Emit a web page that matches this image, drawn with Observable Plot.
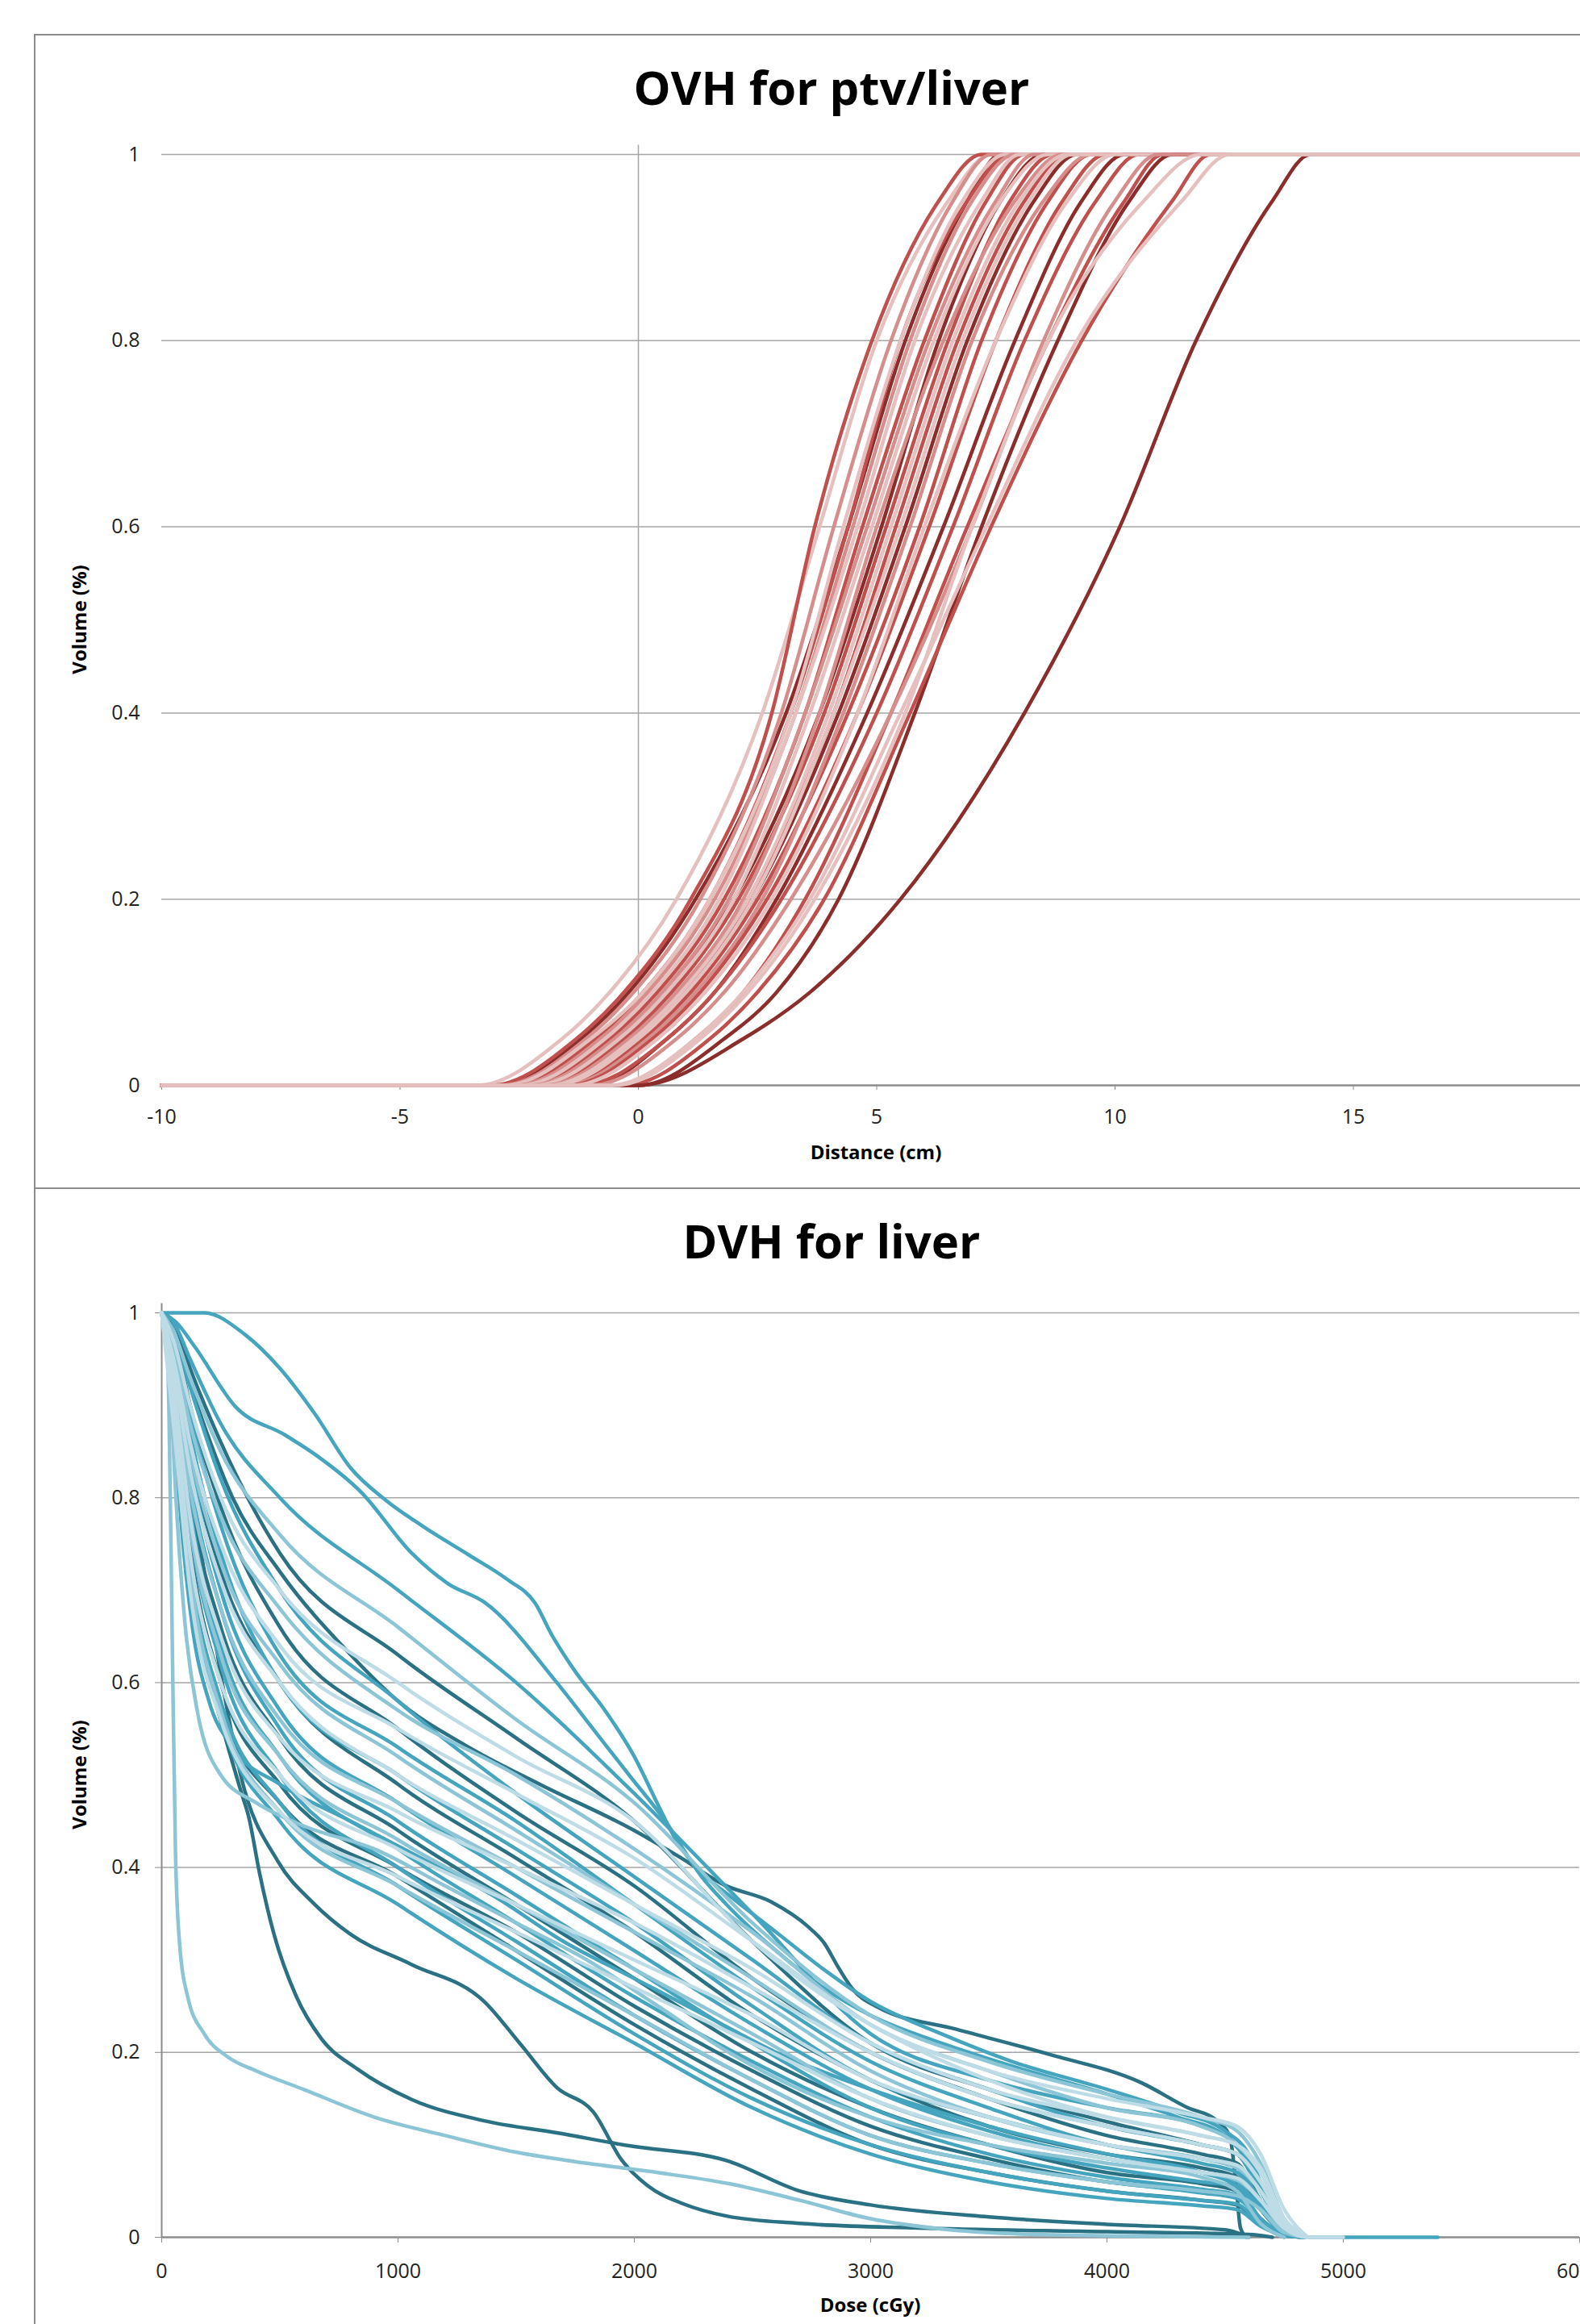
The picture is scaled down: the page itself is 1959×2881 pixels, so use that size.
<!DOCTYPE html>
<html>
<head>
<meta charset="utf-8">
<script src="https://cdn.jsdelivr.net/npm/d3@7"></script>
<script src="https://cdn.jsdelivr.net/npm/@observablehq/plot@0.6"></script>
<style>
html,body{margin:0;padding:0;background:#fff;overflow:hidden;}
#page{position:relative;width:1959px;height:2881px;overflow:hidden;font-family:"Open Sans",sans-serif;background:#fff;}
.frame{position:absolute;box-sizing:border-box;border-color:#8c8c8c;border-style:solid;}
.title{position:absolute;font-weight:700;font-size:58px;line-height:1;white-space:nowrap;transform:translate(-50%,-50%);color:#000;}
.axlab{position:absolute;font-weight:700;font-size:24px;line-height:1;white-space:nowrap;color:#000;transform:translate(-50%,-50%);}
.axlab.rot{transform:translate(-50%,-50%) rotate(-90deg);}
.chart{position:absolute;left:0;width:2100px;}
.chart svg{max-width:none !important;overflow:visible;}
.chart svg text{fill:#222;font-size:25px;}
</style>
</head>
<body>
<div id="page">
  <div class="frame" style="left:42px;top:42px;width:2100px;height:1432px;border-width:2.5px;"></div>
  <div class="frame" style="left:42px;top:1473px;width:2100px;height:1600px;border-width:0 0 0 2.5px;"></div>
  <div class="title" style="left:1031px;top:108px;">OVH for ptv/liver</div>
  <div class="title" style="left:1031px;top:1538px;">DVH for liver</div>
  <div class="axlab rot" style="left:98px;top:768px;">Volume (%)</div>
  <div class="axlab" style="left:1086px;top:1428px;">Distance (cm)</div>
  <div class="axlab rot" style="left:98px;top:2200px;">Volume (%)</div>
  <div class="axlab" style="left:1079px;top:2857px;">Dose (cGy)</div>
  <div id="ovh" class="chart" style="top:161px;"></div>
  <div id="dvh" class="chart" style="top:1597px;"></div>
</div>
<script>
// ---------------- OVH data ----------------
const ovhLevels = [0, 0.05, 0.1, 0.2, 0.4, 0.6, 0.8, 0.95, 1];
const ovhX = [
  [-3.4,-1.6,-0.6,0.8,2.6,3.8,5.0,6.5,7.4],
  [-3.0,-1.2,-0.2,1.2,3.1,4.4,5.6,6.9,7.6],
  [-3.1,-1.3,-0.3,1.1,2.8,3.7,4.9,6.3,7.2],
  [-2.9,-1.1,-0.1,1.3,3.0,4.1,5.3,6.6,7.4],
  [-2.7,-0.9,0.1,1.5,3.2,4.4,5.5,6.9,7.8],
  [-2.8,-1.0,0.1,1.5,3.2,4.3,5.5,6.8,7.7],
  [-2.4,-0.6,0.4,1.8,3.5,4.7,6.0,7.3,8.1],
  [-2.6,-0.8,0.2,1.6,3.3,4.5,5.7,7.0,7.9],
  [-2.5,-0.7,0.3,1.7,3.3,4.6,5.8,7.2,8.0],
  [-2.2,-0.4,0.6,2.0,3.8,5.1,6.3,7.6,8.5],
  [-2.3,-0.5,0.5,1.9,3.5,4.8,6.1,7.5,8.3],
  [-2.1,-0.3,0.7,2.1,3.9,5.2,6.5,7.8,8.7],
  [-2.2,-0.4,0.6,2.0,3.6,4.9,6.2,7.6,8.6],
  [-1.9,-0.1,0.9,2.3,4.1,5.4,6.7,8.1,9.0],
  [-2.0,-0.2,0.8,2.2,3.8,5.0,6.4,7.9,8.9],
  [-1.6,0.1,1.0,2.4,4.2,5.6,6.9,8.3,9.2],
  [-1.9,-0.1,0.9,2.3,4.0,5.3,6.6,8.0,9.0],
  [-1.7,0.1,1.1,2.5,4.4,5.9,7.2,8.6,9.5],
  [-1.6,0.2,1.2,2.6,4.3,5.7,7.0,8.5,9.5],
  [-1.5,0.3,1.3,2.7,4.6,6.1,7.5,8.9,9.8],
  [-1.8,0.0,1.0,2.4,4.1,5.5,6.8,8.2,9.1],
  [-1.0,0.6,1.6,2.9,4.8,6.4,7.9,9.3,10.2],
  [-1.2,0.6,1.6,3.0,5.0,6.6,8.1,9.6,10.5],
  [-1.4,0.4,1.4,2.8,4.6,6.0,7.5,9.0,10.0],
  [-0.5,1.2,2.2,3.5,5.3,6.9,8.6,10.2,11.0],
  [0.0,1.8,2.9,4.2,5.8,7.2,8.8,10.3,11.2],
  [-0.3,1.5,2.5,3.9,5.7,7.4,9.3,11.2,12.0],
  [-1.0,0.8,1.8,3.2,5.3,7.0,8.5,10.0,10.9],
  [0.0,2.2,3.6,5.5,8.1,10.1,11.7,13.3,14.1],
  [-0.5,1.3,2.3,3.7,5.6,7.0,8.6,10.6,11.8],
  [-0.6,1.2,2.2,3.6,5.5,7.3,9.2,11.4,12.4]
];
const ovhShade = ["P","D","M","L","M","P","M","L","P","D","L","M","P","M","L","D","P","M","L","M","P","D","M","P","M","D","M","L","D","P","P"];
const ovhPalette = {D: "#8A2D2B", M: "#C0504D", L: "#D68E8C", P: "#E6C0BF"};
const ovhXDomain = [-10, 20];
const ovhXTicks = [-10, -5, 0, 5, 10, 15, 20];
const volTicks = [0, 0.2, 0.4, 0.6, 0.8, 1];

// ---------------- DVH data ----------------
const dvhGrid = [0,50,120,250,500,1000,1500,2000,2500,3000,3500,4000,4400,4550,4650,4750,4850];
const dvhBundle = [
  [1,0.99,0.95,0.88,0.8,0.7,0.6,0.48,0.35,0.22,0.17,0.14,0.12,0.1,0.06,0.01,0],
  [1,0.98,0.93,0.85,0.76,0.66,0.56,0.47,0.34,0.24,0.19,0.155,0.13,0.115,0.08,0.02,0],
  [1,0.99,0.94,0.86,0.74,0.63,0.54,0.45,0.32,0.21,0.16,0.125,0.1,0.09,0.05,0.01,0],
  [1,0.97,0.9,0.8,0.7,0.6,0.52,0.45,0.32,0.23,0.18,0.15,0.13,0.12,0.09,0.03,0],
  [1,0.98,0.92,0.82,0.7,0.58,0.48,0.39,0.3,0.21,0.16,0.12,0.1,0.09,0.05,0.01,0],
  [1,0.96,0.88,0.78,0.68,0.57,0.5,0.42,0.33,0.23,0.18,0.14,0.12,0.1,0.07,0.02,0],
  [1,0.98,0.9,0.79,0.66,0.55,0.46,0.38,0.28,0.2,0.15,0.11,0.09,0.08,0.04,0.005,0],
  [1,0.95,0.86,0.75,0.64,0.55,0.48,0.41,0.32,0.23,0.17,0.13,0.11,0.1,0.07,0.02,0],
  [1,0.97,0.89,0.77,0.63,0.53,0.45,0.36,0.27,0.19,0.14,0.1,0.085,0.075,0.04,0.01,0],
  [1,0.95,0.85,0.73,0.62,0.52,0.44,0.36,0.28,0.2,0.15,0.12,0.1,0.09,0.06,0.015,0],
  [1,0.97,0.87,0.74,0.6,0.5,0.42,0.34,0.25,0.17,0.13,0.1,0.08,0.07,0.035,0.005,0],
  [1,0.96,0.85,0.72,0.6,0.49,0.41,0.33,0.24,0.17,0.12,0.09,0.075,0.065,0.03,0.005,0],
  [1,0.94,0.83,0.71,0.6,0.5,0.43,0.36,0.29,0.21,0.16,0.13,0.11,0.1,0.075,0.02,0],
  [1,0.96,0.84,0.7,0.57,0.47,0.39,0.31,0.23,0.16,0.115,0.085,0.07,0.06,0.03,0.005,0],
  [1,0.93,0.81,0.68,0.56,0.47,0.4,0.33,0.26,0.18,0.13,0.1,0.085,0.075,0.05,0.01,0],
  [1,0.95,0.82,0.68,0.55,0.45,0.37,0.29,0.21,0.14,0.1,0.075,0.06,0.055,0.03,0.005,0],
  [1,0.95,0.8,0.66,0.54,0.44,0.36,0.28,0.2,0.14,0.1,0.07,0.058,0.05,0.02,0.003,0],
  [1,0.92,0.78,0.65,0.54,0.46,0.4,0.34,0.27,0.2,0.15,0.12,0.1,0.09,0.06,0.015,0],
  [1,0.94,0.79,0.64,0.52,0.42,0.34,0.26,0.19,0.13,0.09,0.065,0.052,0.046,0.02,0.003,0],
  [1,0.92,0.77,0.63,0.52,0.43,0.36,0.29,0.22,0.15,0.11,0.085,0.07,0.062,0.04,0.008,0],
  [1,0.93,0.77,0.62,0.5,0.4,0.32,0.24,0.17,0.11,0.08,0.06,0.048,0.042,0.02,0.003,0],
  [1,0.92,0.75,0.6,0.49,0.4,0.33,0.25,0.18,0.12,0.085,0.06,0.05,0.045,0.02,0.002,0],
  [1,0.9,0.74,0.6,0.5,0.42,0.36,0.3,0.24,0.17,0.13,0.1,0.085,0.078,0.05,0.012,0],
  [1,0.91,0.73,0.58,0.47,0.38,0.3,0.22,0.15,0.1,0.07,0.05,0.04,0.036,0.015,0.002,0],
  [1,0.9,0.72,0.57,0.46,0.38,0.31,0.24,0.17,0.11,0.08,0.06,0.05,0.045,0.03,0.005,0],
  [1,0.9,0.71,0.56,0.45,0.36,0.28,0.21,0.14,0.09,0.06,0.042,0.034,0.03,0.012,0.002,0],
  [1,0.91,0.72,0.57,0.47,0.39,0.31,0.23,0.16,0.1,0.07,0.05,0.04,0.035,0.015,0.002,0],
  [1,0.88,0.7,0.56,0.46,0.39,0.33,0.27,0.21,0.15,0.11,0.085,0.07,0.064,0.04,0.01,0]
];
const dvhBundleShade = ["M","L","D","P","M","L","D","P","M","L","M","D","P","M","L","M","D","P","M","L","M","D","P","M","L","M","D","P"];
const dvhBundleEnd = [4850,4850,4850,4850,4850,4850,4850,4850,4850,4850,4850,4850,4850,4850,4850,5400,4850,4850,4850,4850,4850,4850,4850,4850,4850,4850,4850,5000];

const dvhCurveA = [[0,1],[180,1],[350,0.977],[500,0.94],[650,0.89],[800,0.832],[950,0.797],[1100,0.77],[1300,0.738],[1460,0.712],[1580,0.686],[1650,0.652],[1750,0.612],[1870,0.572],[2000,0.52],[2100,0.468],[2180,0.428],[2290,0.393],[2400,0.37],[2600,0.33],[2800,0.29],[3000,0.255],[3300,0.22],[3600,0.19],[4000,0.16],[4300,0.135],[4500,0.115],[4600,0.09],[4680,0.04],[4760,0.01],[4850,0]];
const dvhCurveE = [[0,1],[60,0.99],[138,0.964],[314,0.898],[521,0.868],[659,0.845],[844,0.806],[1058,0.74],[1212,0.707],[1365,0.687],[1672,0.6],[1825,0.55],[1978,0.5],[2132,0.45],[2285,0.39],[2390,0.36],[2600,0.31],[2800,0.27],[3000,0.24],[3300,0.21],[3600,0.185],[4000,0.155],[4300,0.13],[4500,0.11],[4600,0.08],[4700,0.03],[4780,0.005],[4850,0]];
const dvhCurveS = [[0,1],[60,0.97],[150,0.9],[300,0.8],[500,0.72],[800,0.63],[1000,0.58],[1300,0.53],[1600,0.49],[2000,0.44],[2200,0.41],[2382,0.381],[2578,0.363],[2735,0.336],[2804,0.318],[2863,0.292],[2922,0.269],[3029,0.249],[3363,0.225],[3755,0.198],[4147,0.167],[4343,0.14],[4461,0.127],[4520,0.109],[4545,0.06],[4565,0.01],[4590,0]];
const dvhCurveC = [[0,1],[30,0.97],[60,0.88],[100,0.77],[138,0.694],[215,0.594],[291,0.521],[337,0.481],[368,0.455],[414,0.394],[475,0.328],[567,0.262],[675,0.215],[828,0.182],[1058,0.149],[1365,0.126],[1672,0.113],[1978,0.099],[2390,0.083],[2700,0.05],[3000,0.035],[3500,0.022],[4000,0.014],[4500,0.008],[4600,0]];
const dvhCurveD = [[0,1],[40,0.96],[100,0.85],[180,0.72],[261,0.593],[337,0.497],[491,0.407],[644,0.361],[798,0.328],[1058,0.295],[1365,0.255],[1518,0.209],[1672,0.162],[1825,0.136],[1948,0.083],[2055,0.056],[2209,0.036],[2390,0.023],[2700,0.015],[3200,0.01],[4000,0.006],[4600,0.003],[4700,0]];
const dvhCurveB = [[0,1],[20,0.98],[31,0.89],[46,0.62],[58,0.42],[75,0.32],[110,0.26],[180,0.22],[280,0.195],[400,0.18],[600,0.16],[900,0.13],[1200,0.11],[1500,0.092],[1800,0.08],[2100,0.07],[2400,0.058],[2700,0.04],[3000,0.02],[3300,0.009],[3700,0.003],[4200,0.001],[4600,0]];
const dvhCurveF = [[0,1],[30,0.95],[60,0.8],[100,0.66],[150,0.57],[250,0.5],[400,0.47],[600,0.445],[900,0.42],[1200,0.38],[1500,0.34],[1800,0.3],[2100,0.25],[2400,0.2],[2700,0.16],[3000,0.13],[3500,0.1],[4000,0.08],[4400,0.065],[4550,0.05],[4650,0.015],[4750,0]];
const dvhCurveG = [[0,1],[40,0.93],[80,0.78],[130,0.66],[200,0.58],[300,0.53],[500,0.49],[800,0.45],[1100,0.41],[1400,0.37],[1700,0.32],[2000,0.28],[2300,0.24],[2600,0.2],[3000,0.16],[3500,0.12],[4000,0.09],[4400,0.07],[4550,0.055],[4650,0.02],[4750,0]];
const dvhSpecial = [dvhCurveS, dvhCurveC, dvhCurveD, dvhCurveA, dvhCurveE, dvhCurveG, dvhCurveF, dvhCurveB];
const dvhSpecialShade = ["D","D","D","M","M","M","L","L"];
const dvhPalette = {D: "#2A7184", M: "#45A5BF", L: "#8CC5D6", P: "#BEDCE6"};
const dvhXDomain = [0, 6000];
const dvhXTicks = [0, 1000, 2000, 3000, 4000, 5000, 6000];

// ---------------- OVH chart ----------------
const ovhLines = ovhX.map((xs, i) => {
  const rows = [{x: ovhXDomain[0], y: 0}, ...xs.map((x, j) => ({x, y: ovhLevels[j]})), {x: ovhXDomain[1], y: 1}];
  return Plot.line(rows, {x: "x", y: "y", stroke: ovhPalette[ovhShade[i]], strokeWidth: 4.5, curve: "monotone-x"});
});

const axisStyle = {fontFamily: '"Open Sans", sans-serif', fontSize: "25px", color: "#8c8c8c", background: "transparent", maxWidth: "none", overflow: "visible"};

const ovh = Plot.plot({
  width: 2003, height: 1244,
  marginLeft: 200, marginRight: 30, marginTop: 30, marginBottom: 60,
  style: axisStyle,
  x: {domain: ovhXDomain, ticks: ovhXTicks, tickSize: 6, tickPadding: 24, tickFormat: d => String(d), label: null},
  y: {domain: [0, 1], ticks: volTicks, tickSize: 0, tickPadding: 27, tickFormat: d => String(d), label: null},
  marks: [
    Plot.ruleY(volTicks.filter(v => v > 0), {stroke: "#a6a6a6", strokeWidth: 1.5}),
    Plot.ruleX([0], {y1: 0, y2: 1.01, stroke: "#a6a6a6", strokeWidth: 1.5}),
    Plot.ruleY([0], {stroke: "#8c8c8c", strokeWidth: 2.5}),
    ...ovhLines
  ]
});
document.getElementById("ovh").appendChild(ovh);

// ---------------- DVH chart ----------------
const bundleRows = (k) => {
  const rows = dvhGrid.map((d, j) => ({x: d, y: dvhBundle[k][j]}));
  if (dvhBundleEnd[k] > dvhGrid[dvhGrid.length - 1]) rows.push({x: dvhBundleEnd[k], y: 0});
  return rows;
};
const dvhLine = (rows, shade) => Plot.line(rows, {x: "x", y: "y", stroke: dvhPalette[shade], strokeWidth: 4.5, curve: "monotone-x"});
const order = ["D", "M", "L", "P"];
const dvhLines = [];
for (const s of order) {
  dvhSpecial.forEach((pts, i) => { if (dvhSpecialShade[i] === s) dvhLines.push(dvhLine(pts.map(([x, y]) => ({x, y})), s)); });
  dvhBundle.forEach((_, k) => { if (dvhBundleShade[k] === s) dvhLines.push(dvhLine(bundleRows(k), s)); });
}

const dvh = Plot.plot({
  width: 1998, height: 1236,
  marginLeft: 200, marginRight: 40, marginTop: 30, marginBottom: 60,
  style: axisStyle,
  x: {domain: dvhXDomain, ticks: dvhXTicks, tickSize: 7, tickPadding: 26, tickFormat: d => String(d), label: null},
  y: {domain: [0, 1], ticks: volTicks, tickSize: 8, tickPadding: 19, tickFormat: d => String(d), label: null},
  marks: [
    Plot.ruleY(volTicks.filter(v => v > 0), {stroke: "#a6a6a6", strokeWidth: 1.5}),
    Plot.ruleX([0], {y1: 0, y2: 1.01, stroke: "#8c8c8c", strokeWidth: 2}),
    Plot.ruleY([0], {stroke: "#8c8c8c", strokeWidth: 2.5}),
    ...dvhLines
  ]
});
document.getElementById("dvh").appendChild(dvh);
</script>
</body>
</html>
